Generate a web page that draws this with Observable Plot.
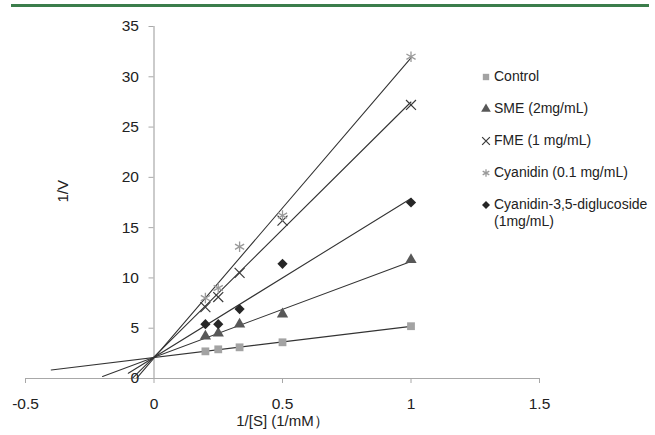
<!DOCTYPE html>
<html>
<head>
<meta charset="utf-8">
<script src="https://cdn.jsdelivr.net/npm/d3@7"></script>
<script src="https://cdn.jsdelivr.net/npm/@observablehq/plot@0.6"></script>
<style>
  html, body { margin: 0; padding: 0; background: #fff; overflow: hidden; }
  #wrap { position: relative; width: 655px; height: 435px; overflow: hidden; font-family: "Liberation Sans", Arial, sans-serif; }
  #chart { position: absolute; left: 0; top: 0; width: 655px; height: 435px; }
  #chart svg { display: block; }
  #legend { position: absolute; left: 480px; top: 68px; width: 175px; font-size: 14px; color: #222; }
  .item { position: relative; height: 32px; }
  .item svg { position: absolute; left: 0; top: 3px; }
  .item span { position: absolute; left: 14px; top: 0; width: 161px; line-height: 17px; }
</style>
</head>
<body>
<div id="wrap">
  <div id="chart"></div>
  <div id="legend"></div>
</div>
<script>
// ---- data ----
const seriesNames = ["Control", "SME (2mg/mL)", "FME (1 mg/mL)", "Cyanidin (0.1 mg/mL)", "Cyanidin-3,5-diglucoside (1mg/mL)"];
const xs = [0.2, 0.25, 0.333, 0.5, 1];
const control = [2.7, 2.9, 3.1, 3.6, 5.2];
const sme = [4.2, 4.5, 5.4, 6.4, 11.8];
const fme = [7.1, 8.1, 10.5, 15.7, 27.2];
const cyanidin = [8.0, 9.0, 13.1, 16.2, 32.0];
const diglucoside = [5.4, 5.4, 6.9, 11.4, 17.5];
const backcast = [0.4, 0.2, 0.1, 0.1, 0.1];   // trendline backward forecast
const xTicks = [-0.5, 0, 0.5, 1, 1.5];
const yTicks = [0, 5, 10, 15, 20, 25, 30, 35];

// ---- styles ----
const styles = [
  {symbol: "square",   fill: "#a3a3a3", r: 4.4},
  {symbol: "triangle", fill: "#585858", r: 4.2},
  {symbol: "times",    stroke: "#3a3a3a", r: 4.6, strokeWidth: 1.2},
  {symbol: "asterisk", stroke: "#9a9a9a", r: 5, strokeWidth: 1.3},
  {symbol: "diamond2", fill: "#262626", r: 4.6}
];

const values = [control, sme, fme, cyanidin, diglucoside];
const points = seriesNames.flatMap((s, i) => xs.map((x, j) => ({series: s, x, y: values[i][j]})));

// least-squares trendlines
const lines = seriesNames.flatMap((s, i) => {
  const ys = values[i];
  const mx = d3.mean(xs), my = d3.mean(ys);
  const b = d3.sum(xs, (x, j) => (x - mx) * (ys[j] - my)) / d3.sum(xs, x => (x - mx) ** 2);
  const a = my - b * mx;
  const x0 = -backcast[i], x1 = d3.max(xs);
  return [{series: s, x: x0, y: a + b * x0}, {series: s, x: x1, y: a + b * x1}];
});

const W = 655, H = 435, ML = 25, MR = 116, MT = 26, MB = 57;
const xDomain = [-0.5, 1.5];
const yAxisDx = (W - ML - MR) * (0 - xDomain[0]) / (xDomain[1] - xDomain[0]);

const chart = Plot.plot({
  width: W, height: H,
  marginLeft: ML, marginRight: MR, marginTop: MT, marginBottom: MB,
  style: {fontFamily: "'Liberation Sans', Arial, sans-serif", fontSize: "15.5px", color: "#222", background: "#fff"},
  x: {domain: xDomain},
  y: {domain: [0, 35]},
  marks: [
    Plot.ruleY([0], {stroke: "#a8a8a8", strokeWidth: 1.2}),
    Plot.ruleX([0], {stroke: "#a8a8a8", strokeWidth: 1.2}),
    Plot.axisX(xTicks, {tickFormat: d => String(d), tickSize: 5, tickPadding: 14, stroke: "#a8a8a8", fill: "#222", label: null}),
    Plot.axisY(yTicks, {anchor: "left", dx: yAxisDx, tickSize: 5, tickPadding: 10, stroke: "#a8a8a8", fill: "#222", label: null}),
    Plot.line(lines, {x: "x", y: "y", z: "series", stroke: "#333", strokeWidth: 1.1, clip: true}),
    ...seriesNames.map((s, i) => Plot.dot(points.filter(d => d.series === s), {x: "x", y: "y", ...styles[i]})),
    Plot.text(["1/[S] (1/mM）"], {frameAnchor: "bottom", dy: 47, fill: "#222", fontSize: 15}),
    Plot.text(["1/V"], {frameAnchor: "left", dx: 38, rotate: -90, fill: "#222", fontSize: 15})
  ]
});
document.getElementById("chart").appendChild(chart);

// decorative green rule along the top edge of the page
d3.select(chart).append("line")
  .attr("x1", 11).attr("x2", 649).attr("y1", 5.5).attr("y2", 5.5)
  .attr("stroke", "#3b7d4b").attr("stroke-width", 3);

// ---- legend ----
const legend = d3.select("#legend");
const symbolMap = {square: d3.symbolSquare, triangle: d3.symbolTriangle, times: d3.symbolTimes, asterisk: d3.symbolAsterisk, diamond2: d3.symbolDiamond2};
seriesNames.forEach((s, i) => {
  const st = styles[i];
  const item = legend.append("div").attr("class", "item");
  const svg = item.append("svg").attr("width", 12).attr("height", 12);
  svg.append("path")
    .attr("transform", "translate(6,6)")
    .attr("d", d3.symbol(symbolMap[st.symbol], Math.PI * 3.6 * 3.6)())
    .attr("fill", st.fill || "none")
    .attr("stroke", st.stroke || "none")
    .attr("stroke-width", st.strokeWidth || 0);
  item.append("span").text(s);
});
</script>
</body>
</html>
